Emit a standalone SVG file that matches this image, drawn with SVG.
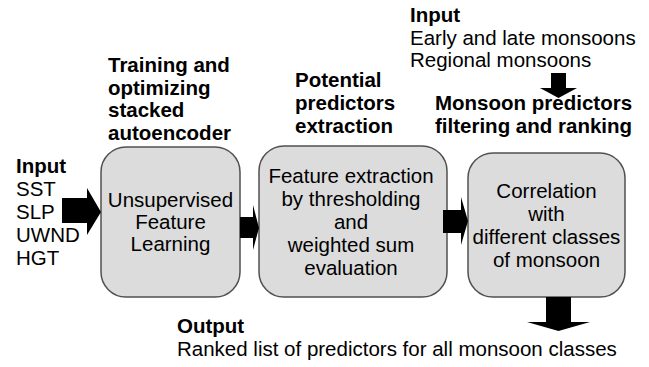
<svg xmlns="http://www.w3.org/2000/svg" width="649" height="367" viewBox="0 0 649 367">
<style>
text{font-family:"Liberation Sans",Arial,sans-serif;font-size:20.5px;fill:#000}
.b{font-weight:bold}
.c{text-anchor:middle}
.box{fill:#dcdcdc;stroke:#505050;stroke-width:1.5}
.arr{fill:#000}
</style>
<rect width="649" height="367" fill="#fff"/>
<g id="input-left">
<text class="b" x="16" y="173">Input</text>
<text x="16" y="196">SST</text>
<text x="16" y="219">SLP</text>
<text x="16" y="242">UWND</text>
<text x="16" y="265">HGT</text>
</g>
<g id="label-training">
<text class="b" x="108" y="72">Training and</text>
<text class="b" x="108" y="95">optimizing</text>
<text class="b" x="108" y="117">stacked</text>
<text class="b" x="108" y="140">autoencoder</text>
</g>
<g id="label-potential">
<text class="b" x="295" y="87">Potential</text>
<text class="b" x="295" y="110">predictors</text>
<text class="b" x="295" y="133">extraction</text>
</g>
<g id="input-top">
<text class="b" x="410" y="22">Input</text>
<text x="410" y="44.5">Early and late monsoons</text>
<text x="410" y="67">Regional monsoons</text>
</g>
<g id="label-monsoon">
<text class="b" x="435" y="110">Monsoon predictors</text>
<text class="b" x="435" y="133">filtering and ranking</text>
</g>
<g id="box1">
<rect class="box" x="101" y="147" width="139" height="150" rx="25"/>
<text class="c" x="170.5" y="207">Unsupervised</text>
<text class="c" x="170.5" y="229">Feature</text>
<text class="c" x="170.5" y="251">Learning</text>
</g>
<g id="box2">
<rect class="box" x="259" y="146" width="188" height="151" rx="25"/>
<text class="c" x="351" y="183">Feature extraction</text>
<text class="c" x="351" y="206">by thresholding</text>
<text class="c" x="351" y="229">and</text>
<text class="c" x="351" y="252">weighted sum</text>
<text class="c" x="351" y="275">evaluation</text>
</g>
<g id="box3">
<rect class="box" x="468" y="153" width="157" height="144" rx="25"/>
<text class="c" x="546.5" y="198">Correlation</text>
<text class="c" x="546.5" y="221">with</text>
<text class="c" x="546.5" y="244">different classes</text>
<text class="c" x="546.5" y="267">of monsoon</text>
</g>
<g id="output">
<text class="b" x="177" y="333">Output</text>
<text x="177" y="356">Ranked list of predictors for all monsoon classes</text>
</g>
<g id="connectors">
<polygon class="arr" points="62,198 87,198 87,188 101,212 87,235 87,223 62,223"/>
<polygon class="arr" points="240,217 253,217 253,205 259,228 253,250 253,238 240,238"/>
<polygon class="arr" points="443,210 461,210 461,197 468,221 461,245 461,233 443,233"/>
<polygon class="arr" points="551,73 566,73 566,88 577,88 558.5,98 540,88 551,88"/>
<polygon class="arr" points="546,297 571,297 571,322 590,322 558.5,331 527,322 546,322"/>
</g>
</svg>
